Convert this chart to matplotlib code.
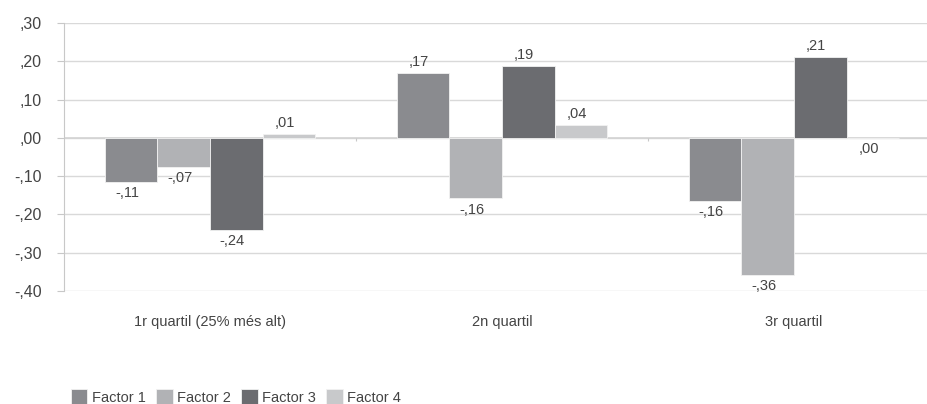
import numpy as np
import matplotlib.pyplot as plt

categories = ["1r quartil (25% més alt)", "2n quartil", "3r quartil"]
factors = ["Factor 1", "Factor 2", "Factor 3", "Factor 4"]
factor1 = [-0.115, 0.17, -0.164]
factor2 = [-0.075, -0.158, -0.358]
factor3 = [-0.24, 0.187, 0.21]
factor4 = [0.01, 0.034, 0.0]
labels1 = ["-,11", ",17", "-,16"]
labels2 = ["-,07", "-,16", "-,36"]
labels3 = ["-,24", ",19", ",21"]
labels4 = [",01", ",04", ",00"]
yticks = [0.30, 0.20, 0.10, 0.00, -0.10, -0.20, -0.30, -0.40]
yticklabels = [",30", ",20", ",10", ",00", "-,10", "-,20", "-,30", "-,40"]

colors = ["#8a8b8f", "#b1b2b5", "#6b6c70", "#c8c9cb"]
txt = "#444444"
plt.rcParams["font.family"] = ["Liberation Sans", "DejaVu Sans"]

fig = plt.figure(figsize=(9.27, 4.04), dpi=100)
ax = fig.add_axes([0.069, 0.2797, 0.945, 0.6633])

x = np.arange(len(categories))
w = 0.18
series = [factor1, factor2, factor3, factor4]
labs = [labels1, labels2, labels3, labels4]
for i, (vals, lb) in enumerate(zip(series, labs)):
    pos = x + (i - 1.5) * w
    ax.bar(pos, vals, w, color=colors[i], edgecolor="#f2f2f2", linewidth=0.6,
           label=factors[i], zorder=3)
    for px, v, t in zip(pos, vals, lb):
        if v > 0:
            ax.annotate(t, (px, v), xytext=(-3, 3), textcoords="offset points",
                        ha="center", va="bottom", fontsize=10.5, color=txt)
        else:
            ax.annotate(t, (px, v), xytext=(-3, -3), textcoords="offset points",
                        ha="center", va="top", fontsize=10.5, color=txt)

ax.set_xlim(-0.5, len(categories) - 0.5)
ax.set_ylim(-0.40, 0.30)
ax.set_yticks(yticks)
ax.set_yticklabels(yticklabels)
ax.yaxis.grid(True, color="#d9d9d9", linewidth=1, zorder=0)
ax.axhline(0, color="#d4d4d4", linewidth=1.2, zorder=2)
for b in x[:-1] + 0.5:
    ax.vlines(b, -0.008, 0, color="#c8c8c8", linewidth=0.8, zorder=2)

ax.set_xticks(x)
ax.set_xticklabels(categories)
ax.tick_params(axis="x", length=0, pad=17, labelsize=10.5, labelcolor=txt)
ax.tick_params(axis="y", length=5, width=0.8, color="#c8c8c8", pad=11,
               labelsize=11.5, labelcolor=txt)
for s in ["top", "right", "bottom"]:
    ax.spines[s].set_visible(False)
ax.spines["left"].set_color("#c8c8c8")
ax.spines["left"].set_linewidth(0.8)

fig.legend(loc="lower left", bbox_to_anchor=(0.062, -0.035), ncol=4, frameon=False,
           handlelength=1.15, handleheight=1.3, handletextpad=0.3, columnspacing=0.7,
           fontsize=10.5, labelcolor=txt)

fig.savefig("out.png", dpi=100)
